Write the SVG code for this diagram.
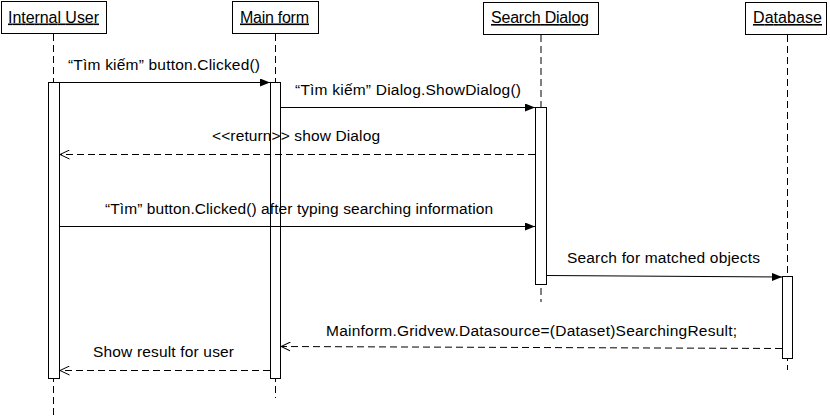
<svg xmlns="http://www.w3.org/2000/svg" width="830" height="417" viewBox="0 0 830 417">
<style>
text { font-family: "Liberation Sans", Arial, sans-serif; font-size: 15.5px; fill: #000; }
.hdr { font-size: 16px; text-decoration: underline; }
.box { fill: #fff; stroke: #000; stroke-width: 1; }
.life { stroke: #000; stroke-width: 1; stroke-dasharray: 7 4; fill: none; }
.act { fill: #fff; stroke: #000; stroke-width: 1; }
.msg { stroke: #000; stroke-width: 1; fill: none; marker-end: url(#filled); }
.ret { stroke: #000; stroke-width: 1; fill: none; stroke-dasharray: 7 4; marker-end: url(#open); }
</style>
<defs>
<marker id="filled" viewBox="0 0 10 8" refX="10" refY="4" markerWidth="10" markerHeight="8" markerUnits="userSpaceOnUse" orient="auto">
<path d="M0,0 L10,4 L0,8 z" fill="#000"/>
</marker>
<marker id="open" viewBox="0 0 10 10" refX="9.5" refY="5" markerWidth="10" markerHeight="10" markerUnits="userSpaceOnUse" orient="auto">
<path d="M0,0.5 L9.5,5 L0,9.5" fill="none" stroke="#000" stroke-width="1"/>
</marker>
</defs>
<rect width="830" height="417" fill="#fff"/>

<g id="internal-user">
<rect class="box" x="1.5" y="1.5" width="105" height="32"/>
<line class="life" x1="53.5" y1="34" x2="53.5" y2="417"/>
<rect class="act" x="48.5" y="82.5" width="11" height="296"/>
<text class="hdr" x="8" y="22.5" textLength="91" lengthAdjust="spacing">Internal User</text>
</g>

<g id="main-form">
<rect class="box" x="232.5" y="1.5" width="86" height="32"/>
<line class="life" x1="275.5" y1="34" x2="275.5" y2="398"/>
<rect class="act" x="270.5" y="82.5" width="10" height="296"/>
<text class="hdr" x="240" y="22.5" textLength="69" lengthAdjust="spacing">Main form</text>
</g>

<g id="search-dialog">
<rect class="box" x="483.5" y="2.5" width="115" height="32"/>
<line class="life" x1="541" y1="35" x2="541" y2="302"/>
<rect class="act" x="535.5" y="107.5" width="11" height="177"/>
<text class="hdr" x="491" y="23" textLength="98" lengthAdjust="spacing">Search Dialog</text>
</g>

<g id="database">
<rect class="box" x="745.5" y="2.5" width="81" height="32"/>
<line class="life" x1="787.5" y1="35" x2="787.5" y2="370"/>
<rect class="act" x="782.5" y="276.5" width="10" height="82"/>
<text class="hdr" x="753" y="23" textLength="69" lengthAdjust="spacing">Database</text>
</g>

<g id="connectors">
<line class="msg" x1="60" y1="82.5" x2="270" y2="82.5"/>
<text x="68" y="70" textLength="192" lengthAdjust="spacing">“Tìm kiếm” button.Clicked()</text>

<line class="msg" x1="281" y1="107.5" x2="535" y2="107.5"/>
<text x="295" y="95" textLength="226" lengthAdjust="spacing">“Tìm kiếm” Dialog.ShowDialog()</text>

<line class="ret" x1="535" y1="154.5" x2="60" y2="154.5"/>
<text x="212" y="140.5" textLength="168" lengthAdjust="spacing">&lt;&lt;return&gt;&gt; show Dialog</text>

<line class="msg" x1="60" y1="226.5" x2="535" y2="226.5"/>
<text x="105" y="214" textLength="388" lengthAdjust="spacing">“Tìm” button.Clicked() after typing searching information</text>

<line class="msg" x1="547" y1="275.5" x2="782" y2="277"/>
<text x="567" y="262.5" textLength="193" lengthAdjust="spacing">Search for matched objects</text>

<line class="ret" x1="782" y1="348.5" x2="281" y2="346.5"/>
<text x="326" y="336" textLength="411" lengthAdjust="spacing">Mainform.Gridvew.Datasource=(Dataset)SearchingResult;</text>

<line class="ret" x1="270" y1="370.5" x2="60" y2="370.5"/>
<text x="93" y="357" textLength="141" lengthAdjust="spacing">Show result for user</text>
</g>
</svg>
